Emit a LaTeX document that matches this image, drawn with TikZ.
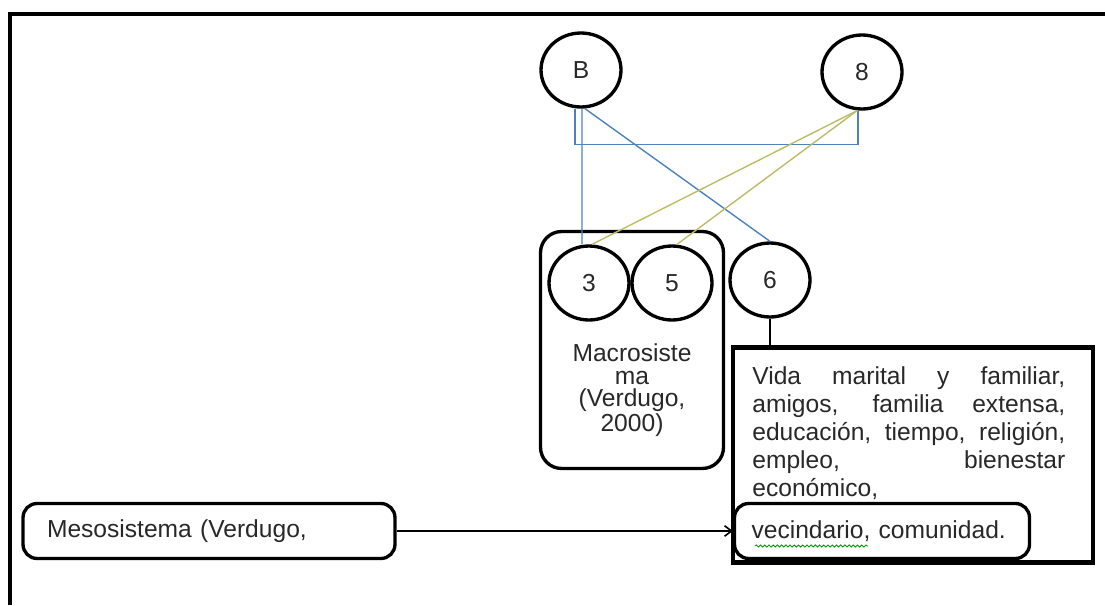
\documentclass[tikz,border=0pt]{standalone}
\usepackage{fontspec}
\setmainfont{Liberation Sans}
\usetikzlibrary{arrows.meta,decorations.pathmorphing}
\definecolor{wordblue}{RGB}{79,129,189}
\definecolor{wordolive}{RGB}{190,186,104}
\definecolor{inkgray}{RGB}{40,40,40}
\tikzset{
  frame/.style   = {line width=2.4pt, draw=black},
  circ/.style    = {ellipse, draw=black, line width=1.9pt, minimum width=1.6cm,
                    minimum height=1.48cm, inner sep=0pt, text=inkgray,
                    font=\fontsize{14}{16}\selectfont},
  roundbox/.style = {draw=black, line width=1.9pt, rounded corners=8pt},
  % boxes keep their text left, with a fixed width
  txtbox/.style  = {roundbox, minimum height=1.1cm, align=left, text=inkgray,
                    font=\fontsize{14}{16}\selectfont},
  bluelink/.style  = {draw=wordblue, line width=0.8pt},
  olivelink/.style = {draw=wordolive, line width=0.8pt},
  link/.style    = {draw=black, line width=0.9pt},
  squiggle/.style = {draw=green!60!black, line width=0.5pt, decorate,
                    decoration={snake, amplitude=0.6pt, segment length=2.4pt}},
}
\usetikzlibrary{shapes.geometric}
\begin{document}
\begin{tikzpicture}[x=0.02cm, y=-0.02cm]
  \useasboundingbox (0,0) rectangle (1105,605);
  \draw[frame] (1105,14) -- (10,14) -- (10,605);

  \node[roundbox, rounded corners=12pt, minimum width=3.66cm,
        minimum height=4.74cm] (macro) at (632,350) {};
  \node[align=center, text=inkgray, inner sep=0pt,
        font=\fontsize{14}{12.8}\selectfont] (macrotxt) at (632,390)
        {Macrosiste\\ma\\(Verdugo,\\2000)};

  \node[circ] (b)  at (581,70)  {B};
  \node[circ] (n8) at (862,72)  {8};
  \node[circ] (c3) at (589,283) {3};
  \node[circ] (c5) at (672,283) {5};
  \node[circ] (c6) at (770,280) {6};

  \node[draw=black, line width=2.4pt, minimum width=7.2cm,
        minimum height=4.3cm] (vida) at (913,455) {};
  \node[anchor=north west, inner sep=0pt, text width=6.26cm, align=justify,
        text=inkgray, font=\fontsize{14}{16}\selectfont] (vidatxt) at (752,366)
        {Vida marital y familiar,\linebreak amigos, familia extensa,\linebreak
         educación, tiempo, religión,\linebreak empleo, bienestar\linebreak
         económico,};

  \node[txtbox, minimum width=5.9cm, inner xsep=0.34cm, text width=5.22cm]
        (vec) at (882,531) {vecindario, comunidad.};
  \node[txtbox, minimum width=7.44cm, inner xsep=0.48cm, text width=6.48cm]
        (meso) at (209,531) {Mesosistema (Verdugo,};

  \draw[bluelink] ([xshift=-0.12cm]b.south) -- ++(0,36) -| ([xshift=-0.08cm]n8.south);
  \draw[bluelink] ([xshift=0.02cm]b.south) -- ([xshift=-0.14cm]c3.north);
  \draw[bluelink] ([xshift=0.08cm]b.south) -- (c6.north);
  \draw[olivelink] ([xshift=-0.1cm]n8.south) -- ([xshift=0.06cm]c3.north);
  \draw[olivelink] ([xshift=-0.1cm]n8.south) -- ([xshift=0.1cm]c5.north);

  \draw[link] (c6.south) -- (c6.south |- vida.north);
  \draw[link, -{Straight Barb[length=4pt, width=6pt]}] (meso.east) -- (vec.west);

  \draw[squiggle] (755,546) -- (868,546);
\end{tikzpicture}
\end{document}
